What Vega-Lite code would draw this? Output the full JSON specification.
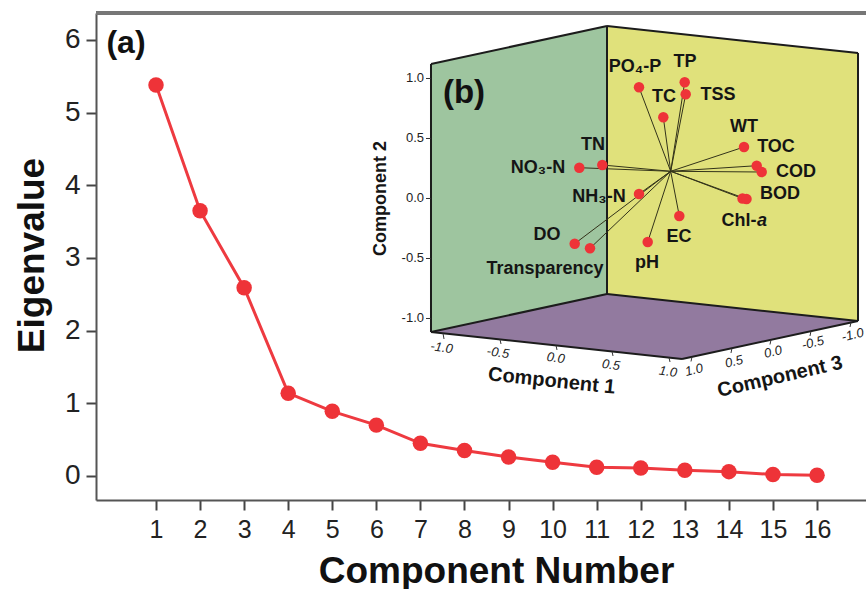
{
"$schema":"https://vega.github.io/schema/vega-lite/v6.json",
"width":770,"height":487,
"autosize":{"type":"none"},
"padding":{"left":96,"top":13,"right":0,"bottom":89},
"background":"white",
"config":{"view":{"stroke":null},"font":"Liberation Sans","text":{"font":"Liberation Sans"}},
"datasets":{
"scree":[{"c":1,"e":5.38},{"c":2,"e":3.65},{"c":3,"e":2.59},{"c":4,"e":1.14},{"c":5,"e":0.89},{"c":6,"e":0.70},{"c":7,"e":0.45},{"c":8,"e":0.35},{"c":9,"e":0.26},{"c":10,"e":0.19},{"c":11,"e":0.12},{"c":12,"e":0.11},{"c":13,"e":0.08},{"c":14,"e":0.06},{"c":15,"e":0.02},{"c":16,"e":0.01}],
"walls":[{"wall":"green","u":-1.4667,"v":1.1208,"v2":-1.1125},{"wall":"green","u":0,"v":1.4375,"v2":-0.7958},{"wall":"yellow","u":0,"v":1.4375,"v2":-0.7958},{"wall":"yellow","u":2.0917,"v":1.2125,"v2":-1.0208},{"wall":"floor","u":-1.4667,"v":-1.1125,"v2":-1.1125},{"wall":"floor","u":0,"v":-0.7958,"v2":-1.27},{"wall":"floor","u":0.625,"v":-0.8633,"v2":-1.3375},{"wall":"floor","u":2.0917,"v":-1.0208,"v2":-1.0208}],
"edges":[{"u":-1.4667,"v":1.1208,"u2":-1.4667,"v2":-1.1125},{"u":-1.4667,"v":1.1208,"u2":0,"v2":1.4375},{"u":0,"v":1.4375,"u2":2.0917,"v2":1.2125},{"u":0,"v":1.4375,"u2":0,"v2":-0.7958},{"u":2.0917,"v":1.2125,"u2":2.0917,"v2":-1.0208},{"u":-1.4667,"v":-1.1125,"u2":0,"v2":-0.7958},{"u":0,"v":-0.7958,"u2":2.0917,"v2":-1.0208},{"u":-1.4667,"v":-1.1125,"u2":0.625,"v2":-1.3375},{"u":0.625,"v":-1.3375,"u2":2.0917,"v2":-1.0208}],
"ticks":[{"u":-1.4667,"v":1,"u2":-1.5083,"v2":1},{"u":-1.4667,"v":0.5,"u2":-1.5083,"v2":0.5},{"u":-1.4667,"v":0,"u2":-1.5083,"v2":0},{"u":-1.4667,"v":-0.5,"u2":-1.5083,"v2":-0.5},{"u":-1.4667,"v":-1,"u2":-1.5083,"v2":-1},{"u":-1.3667,"v":-1.1233,"u2":-1.3583,"v2":-1.1708},{"u":-0.8917,"v":-1.1742,"u2":-0.8833,"v2":-1.2125},{"u":-0.425,"v":-1.2242,"u2":-0.4167,"v2":-1.2625},{"u":0.0417,"v":-1.275,"u2":0.05,"v2":-1.3125},{"u":0.5167,"v":-1.3258,"u2":0.525,"v2":-1.3625},{"u":0.7083,"v":-1.3192,"u2":0.7,"v2":-1.3583},{"u":1.0417,"v":-1.2475,"u2":1.0333,"v2":-1.2875},{"u":1.3667,"v":-1.1775,"u2":1.3583,"v2":-1.2167},{"u":1.7,"v":-1.1042,"u2":1.6917,"v2":-1.1458},{"u":2.0333,"v":-1.0325,"u2":2.025,"v2":-1.0708}],
"loadings":[{"name":"PO4-P","u":0.2667,"v":0.9267},{"name":"TP","u":0.6475,"v":0.9683},{"name":"TSS","u":0.6558,"v":0.8683},{"name":"TC","u":0.4692,"v":0.6767},{"name":"WT","u":1.1417,"v":0.4292},{"name":"TOC","u":1.2475,"v":0.2733},{"name":"COD","u":1.2892,"v":0.2208},{"name":"BOD","u":1.1292,"v":0},{"name":"Chl-a","u":1.1625,"v":-0.0042},{"name":"TN","u":-0.0392,"v":0.2792},{"name":"NO3-N","u":-0.2308,"v":0.2567},{"name":"NH3-N","u":0.2667,"v":0.0375},{"name":"EC","u":0.6025,"v":-0.1458},{"name":"pH","u":0.3392,"v":-0.3625},{"name":"DO","u":-0.2692,"v":-0.3767},{"name":"Transparency","u":-0.1417,"v":-0.415}],
"labels":[{"t":"PO₄-P","u":0.2333,"v":1.0958},{"t":"TP","u":0.65,"v":1.1375},{"t":"TC","u":0.475,"v":0.8458},{"t":"TSS","u":0.925,"v":0.8625},{"t":"WT","u":1.1417,"v":0.5958},{"t":"TOC","u":1.4083,"v":0.4292},{"t":"COD","u":1.575,"v":0.2208},{"t":"BOD","u":1.4417,"v":0.0375},{"t":"Chl-","u":1.1,"v":-0.1875},{"t":"TN","u":-0.1167,"v":0.4458},{"t":"NO₃-N","u":-0.575,"v":0.2542},{"t":"NH₃-N","u":-0.0667,"v":0.0125},{"t":"EC","u":0.6,"v":-0.3208},{"t":"pH","u":0.3333,"v":-0.5375},{"t":"DO","u":-0.5,"v":-0.3042},{"t":"Transparency","u":-0.5167,"v":-0.5875}],
"c2labels":[{"t":"1.0","u":-1.525,"v":1},{"t":"0.5","u":-1.525,"v":0.5},{"t":"0.0","u":-1.525,"v":0},{"t":"-0.5","u":-1.525,"v":-0.5},{"t":"-1.0","u":-1.525,"v":-1}],
"c1labels":[{"t":"-1.0","u":-1.3775,"v":-1.2433},{"t":"-0.5","u":-0.9083,"v":-1.285},{"t":"0.0","u":-0.4275,"v":-1.3292},{"t":"0.5","u":0.0333,"v":-1.3875},{"t":"1.0","u":0.5083,"v":-1.4433}],
"c3labels":[{"t":"1.0","u":0.725,"v":-1.4292},{"t":"0.5","u":1.0583,"v":-1.36},{"t":"0.0","u":1.3833,"v":-1.2792},{"t":"-0.5","u":1.7167,"v":-1.2042},{"t":"-1.0","u":2.0475,"v":-1.1375}]
},
"layer":[
{"data":{"name":"scree"},
 "encoding":{
  "x":{"field":"c","type":"quantitative","scale":{"domain":[-0.3615,17.111],"nice":false,"zero":false},
   "axis":{"values":[1,2,3,4,5,6,7,8,9,10,11,12,13,14,15,16],"grid":false,"title":"Component Number","titleFont":"Liberation Sans","titleFontSize":37,"titleFontWeight":"bold","titleColor":"#111","titleX":400,"titleY":71,"titleBaseline":"middle","titleAnchor":"middle","labelFontSize":25,"labelColor":"#222","labelPadding":7,"labelFlush":false,"labelOverlap":false,"tickSize":10,"tickWidth":2,"tickColor":"#444","domainColor":"#555","domainWidth":2,"format":"d"}},
  "y":{"field":"e","type":"quantitative","scale":{"domain":[-0.3303,6.371],"nice":false,"zero":false},
   "axis":{"values":[0,1,2,3,4,5,6],"grid":false,"title":"Eigenvalue","titleFont":"Liberation Sans","titleFontSize":37,"titleFontWeight":"bold","titleColor":"#111","titleX":-64,"titleY":242,"titleBaseline":"middle","titleAnchor":"middle","labelFontSize":28,"labelColor":"#222","labelPadding":6,"tickSize":10,"tickWidth":2,"tickColor":"#444","domainColor":"#555","domainWidth":2,"format":"d"}}
 },
 "layer":[
  {"mark":{"type":"line","color":"#EE3A40","strokeWidth":3}},
  {"mark":{"type":"point","filled":true,"opacity":1,"color":"#EE3338","size":240}}
 ]},
{"data":{"name":"scree"},"mark":{"type":"rule","color":"#777","strokeWidth":3},"encoding":{"y":{"datum":6.371,"scale":{"domain":[-0.3303,6.371],"nice":false,"zero":false},"axis":null}}},
{"data":{"values":[{"t":"(a)","x":0.319,"y":5.958}]},"mark":{"type":"text","font":"Liberation Sans","fontWeight":"bold","fontSize":32,"color":"#111"},"encoding":{"text":{"field":"t"},"x":{"field":"x","type":"quantitative","scale":{"domain":[-0.3615,17.111],"nice":false,"zero":false},"axis":null},"y":{"field":"y","type":"quantitative","scale":{"domain":[-0.3303,6.371],"nice":false,"zero":false},"axis":null}}},
{"encoding":{
  "x":{"field":"u","type":"quantitative","scale":{"domain":[-4.2583,2.1583],"nice":false,"zero":false},"axis":null},
  "y":{"field":"v","type":"quantitative","scale":{"domain":[-2.5125,1.5458],"nice":false,"zero":false},"axis":null}},
 "layer":[
  {"data":{"name":"walls"},"transform":[{"filter":"datum.wall=='green'"}],"mark":{"type":"area","color":"#9EC59F","opacity":1},"encoding":{"y2":{"field":"v2"}}},
  {"data":{"name":"walls"},"transform":[{"filter":"datum.wall=='yellow'"}],"mark":{"type":"area","color":"#E0E17B","opacity":1},"encoding":{"y2":{"field":"v2"}}},
  {"data":{"name":"walls"},"transform":[{"filter":"datum.wall=='floor'"}],"mark":{"type":"area","color":"#927A9F","opacity":1},"encoding":{"y2":{"field":"v2"}}},
  {"data":{"name":"edges"},"mark":{"type":"rule","color":"#1c1c1c","strokeWidth":2},"encoding":{"x2":{"field":"u2"},"y2":{"field":"v2"}}},
  {"data":{"name":"ticks"},"mark":{"type":"rule","color":"#333","strokeWidth":1},"encoding":{"x2":{"field":"u2"},"y2":{"field":"v2"}}},
  {"data":{"name":"loadings"},"mark":{"type":"rule","color":"#33331a","strokeWidth":1},"encoding":{"x2":{"datum":0.5308},"y2":{"datum":0.2267}}},
  {"data":{"name":"loadings"},"mark":{"type":"point","filled":true,"opacity":1,"color":"#EE3338","size":110}},
  {"data":{"name":"labels"},"mark":{"type":"text","font":"Liberation Sans","fontWeight":"bold","fontSize":18,"color":"#151515"},"encoding":{"text":{"field":"t"}}},
  {"data":{"values":[{"t":"a","u":1.2917,"v":-0.1875}]},"mark":{"type":"text","font":"Liberation Sans","fontWeight":"bold","fontStyle":"italic","fontSize":18,"color":"#151515"},"encoding":{"text":{"field":"t"}}},
  {"data":{"values":[{"t":"(b)","u":-1.1917,"v":0.8792}]},"mark":{"type":"text","font":"Liberation Sans","fontWeight":"bold","fontSize":33,"color":"#111"},"encoding":{"text":{"field":"t"}}},
  {"data":{"name":"c2labels"},"mark":{"type":"text","align":"right","font":"Liberation Sans","fontSize":13,"color":"#222"},"encoding":{"text":{"field":"t"}}},
  {"data":{"name":"c1labels"},"mark":{"type":"text","angle":8,"font":"Liberation Sans","fontStyle":"italic","fontSize":13,"color":"#222"},"encoding":{"text":{"field":"t"}}},
  {"data":{"name":"c3labels"},"mark":{"type":"text","angle":346,"font":"Liberation Sans","fontStyle":"italic","fontSize":13,"color":"#222"},"encoding":{"text":{"field":"t"}}},
  {"data":{"values":[{"t":"Component 1","u":-0.4608,"v":-1.5208}]},"mark":{"type":"text","angle":6,"font":"Liberation Sans","fontWeight":"bold","fontSize":20,"color":"#151515"},"encoding":{"text":{"field":"t"}}},
  {"data":{"values":[{"t":"Component 3","u":1.4417,"v":-1.485}]},"mark":{"type":"text","angle":347,"font":"Liberation Sans","fontWeight":"bold","fontSize":20,"color":"#151515"},"encoding":{"text":{"field":"t"}}},
  {"data":{"values":[{"t":"Component 2","u":-1.8833,"v":0}]},"mark":{"type":"text","angle":270,"font":"Liberation Sans","fontWeight":"bold","fontSize":18,"color":"#151515"},"encoding":{"text":{"field":"t"}}}
 ]}
],
"resolve":{"scale":{"x":"independent","y":"independent"}}
}
